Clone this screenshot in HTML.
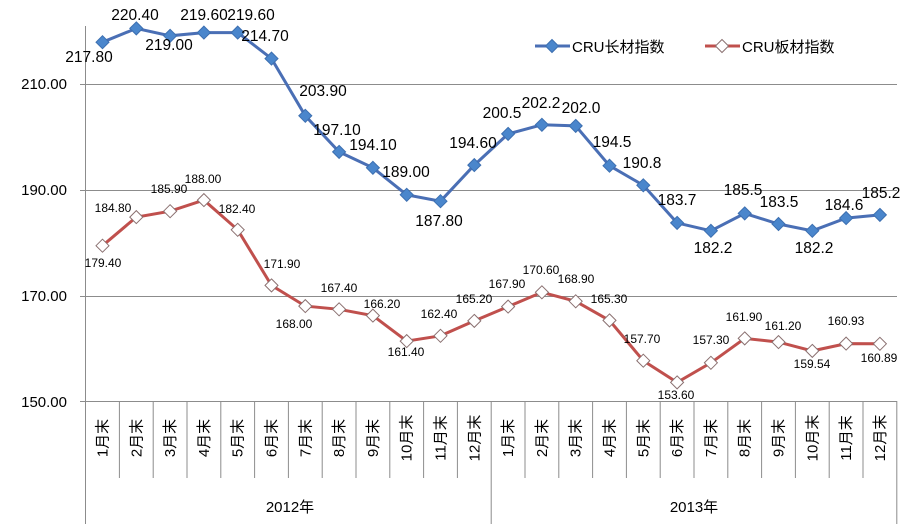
<!DOCTYPE html>
<html><head><meta charset="utf-8"><style>
html,body{margin:0;padding:0;background:#fff;}
svg{display:block;font-family:"Liberation Sans","Noto Sans CJK SC",sans-serif;}
.b{font-size:15.5px;fill:#000;text-anchor:middle;}
.r{font-size:12px;fill:#000;text-anchor:middle;}
.y{font-size:15px;fill:#000;text-anchor:end;}
.c{font-size:15px;fill:#000;text-anchor:middle;}
</style></head><body>
<svg width="908" height="527" viewBox="0 0 908 527">
<defs>
<path id="db" d="M0,-6.5L6.5,0L0,6.5L-6.5,0Z" fill="#4a86cc" stroke="#3c6fb0" stroke-width="1"/>
<path id="dr" d="M0,-6.5L6.5,0L0,6.5L-6.5,0Z" fill="#fff" stroke="#8a7070" stroke-width="1"/>
</defs>
<g stroke="#8c8c8c" stroke-width="1">
<line x1="80" y1="84.5" x2="897" y2="84.5"/>
<line x1="80" y1="190.5" x2="897" y2="190.5"/>
<line x1="80" y1="296.5" x2="897" y2="296.5"/>
<line x1="80" y1="401.5" x2="897" y2="401.5"/>
<line x1="85.5" y1="26" x2="85.5" y2="524"/>
</g>
<g stroke="#8c8c8c" stroke-width="1">
<line x1="119.4" y1="401" x2="119.4" y2="478"/><line x1="153.2" y1="401" x2="153.2" y2="478"/><line x1="187" y1="401" x2="187" y2="478"/><line x1="220.8" y1="401" x2="220.8" y2="478"/><line x1="254.6" y1="401" x2="254.6" y2="478"/><line x1="288.4" y1="401" x2="288.4" y2="478"/><line x1="322.2" y1="401" x2="322.2" y2="478"/><line x1="356" y1="401" x2="356" y2="478"/><line x1="389.8" y1="401" x2="389.8" y2="478"/><line x1="423.6" y1="401" x2="423.6" y2="478"/><line x1="457.4" y1="401" x2="457.4" y2="478"/>
<line x1="491.2" y1="401" x2="491.2" y2="524"/>
<line x1="525" y1="401" x2="525" y2="478"/><line x1="558.8" y1="401" x2="558.8" y2="478"/><line x1="592.6" y1="401" x2="592.6" y2="478"/><line x1="626.4" y1="401" x2="626.4" y2="478"/><line x1="660.2" y1="401" x2="660.2" y2="478"/><line x1="694" y1="401" x2="694" y2="478"/><line x1="727.8" y1="401" x2="727.8" y2="478"/><line x1="761.6" y1="401" x2="761.6" y2="478"/><line x1="795.4" y1="401" x2="795.4" y2="478"/><line x1="829.2" y1="401" x2="829.2" y2="478"/><line x1="863" y1="401" x2="863" y2="478"/>
<line x1="896.8" y1="401" x2="896.8" y2="524"/>
</g>
<text class="y" x="67" y="89">210.00</text>
<text class="y" x="67" y="195">190.00</text>
<text class="y" x="67" y="301">170.00</text>
<text class="y" x="67" y="407">150.00</text>
<g class="c">
<text transform="translate(107.5,438) rotate(-90)">1月末</text>
<text transform="translate(141.3,438) rotate(-90)">2月末</text>
<text transform="translate(175.1,438) rotate(-90)">3月末</text>
<text transform="translate(208.9,438) rotate(-90)">4月末</text>
<text transform="translate(242.7,438) rotate(-90)">5月末</text>
<text transform="translate(276.5,438) rotate(-90)">6月末</text>
<text transform="translate(310.3,438) rotate(-90)">7月末</text>
<text transform="translate(344.1,438) rotate(-90)">8月末</text>
<text transform="translate(377.9,438) rotate(-90)">9月末</text>
<text transform="translate(411.7,438) rotate(-90)">10月末</text>
<text transform="translate(445.5,438) rotate(-90)">11月末</text>
<text transform="translate(479.3,438) rotate(-90)">12月末</text>
<text transform="translate(513.1,438) rotate(-90)">1月末</text>
<text transform="translate(546.9,438) rotate(-90)">2月末</text>
<text transform="translate(580.7,438) rotate(-90)">3月末</text>
<text transform="translate(614.5,438) rotate(-90)">4月末</text>
<text transform="translate(648.3,438) rotate(-90)">5月末</text>
<text transform="translate(682.1,438) rotate(-90)">6月末</text>
<text transform="translate(715.9,438) rotate(-90)">7月末</text>
<text transform="translate(749.7,438) rotate(-90)">8月末</text>
<text transform="translate(783.5,438) rotate(-90)">9月末</text>
<text transform="translate(817.3,438) rotate(-90)">10月末</text>
<text transform="translate(851.1,438) rotate(-90)">11月末</text>
<text transform="translate(884.9,438) rotate(-90)">12月末</text>
</g>
<text class="c" x="290" y="512">2012年</text>
<text class="c" x="694" y="512">2013年</text>
<polyline fill="none" stroke="#4a6fb5" stroke-width="3" points="102.5,42.2 136.3,28.4 170.1,35.8 203.9,32.6 237.7,32.6 271.5,58.6 305.3,115.8 339.1,151.9 372.9,167.8 406.7,194.8 440.5,201.2 474.3,165.1 508.1,133.9 541.9,124.8 575.7,125.9 609.5,165.7 643.3,185.3 677.1,222.9 710.9,230.8 744.7,213.4 778.5,224 812.3,230.8 846.1,218.1 879.9,214.9"/>
<g>
<use href="#db" x="102.5" y="42.2"/><use href="#db" x="136.3" y="28.4"/><use href="#db" x="170.1" y="35.8"/><use href="#db" x="203.9" y="32.6"/><use href="#db" x="237.7" y="32.6"/><use href="#db" x="271.5" y="58.6"/><use href="#db" x="305.3" y="115.8"/><use href="#db" x="339.1" y="151.9"/><use href="#db" x="372.9" y="167.8"/><use href="#db" x="406.7" y="194.8"/><use href="#db" x="440.5" y="201.2"/><use href="#db" x="474.3" y="165.1"/><use href="#db" x="508.1" y="133.9"/><use href="#db" x="541.9" y="124.8"/><use href="#db" x="575.7" y="125.9"/><use href="#db" x="609.5" y="165.7"/><use href="#db" x="643.3" y="185.3"/><use href="#db" x="677.1" y="222.9"/><use href="#db" x="710.9" y="230.8"/><use href="#db" x="744.7" y="213.4"/><use href="#db" x="778.5" y="224"/><use href="#db" x="812.3" y="230.8"/><use href="#db" x="846.1" y="218.1"/><use href="#db" x="879.9" y="214.9"/>
</g>
<g class="b">
<text x="89" y="62">217.80</text><text x="135" y="20">220.40</text><text x="169" y="50">219.00</text><text x="204" y="20">219.60</text><text x="251" y="20">219.60</text><text x="265" y="41">214.70</text><text x="323" y="96">203.90</text><text x="337" y="135">197.10</text><text x="373" y="150">194.10</text><text x="406" y="177">189.00</text><text x="439" y="226">187.80</text><text x="473" y="148">194.60</text>
<text x="502" y="118">200.5</text><text x="541" y="108">202.2</text><text x="581" y="113">202.0</text><text x="612" y="147">194.5</text><text x="642" y="168">190.8</text><text x="677" y="205">183.7</text><text x="713" y="253">182.2</text><text x="743" y="195">185.5</text><text x="779" y="207">183.5</text><text x="814" y="253">182.2</text><text x="844" y="210">184.6</text><text x="881" y="198">185.2</text>
</g>
<polyline fill="none" stroke="#c0504d" stroke-width="3" points="102.5,245.7 136.3,217.1 170.1,211.2 203.9,200.1 237.7,229.8 271.5,285.4 305.3,306.1 339.1,309.3 372.9,315.6 406.7,341.1 440.5,335.8 474.3,320.9 508.1,306.6 541.9,292.3 575.7,301.3 609.5,320.4 643.3,360.7 677.1,382.4 710.9,362.8 744.7,338.4 778.5,342.1 812.3,350.9 846.1,343.6 879.9,343.8"/>
<g>
<use href="#dr" x="102.5" y="245.7"/><use href="#dr" x="136.3" y="217.1"/><use href="#dr" x="170.1" y="211.2"/><use href="#dr" x="203.9" y="200.1"/><use href="#dr" x="237.7" y="229.8"/><use href="#dr" x="271.5" y="285.4"/><use href="#dr" x="305.3" y="306.1"/><use href="#dr" x="339.1" y="309.3"/><use href="#dr" x="372.9" y="315.6"/><use href="#dr" x="406.7" y="341.1"/><use href="#dr" x="440.5" y="335.8"/><use href="#dr" x="474.3" y="320.9"/><use href="#dr" x="508.1" y="306.6"/><use href="#dr" x="541.9" y="292.3"/><use href="#dr" x="575.7" y="301.3"/><use href="#dr" x="609.5" y="320.4"/><use href="#dr" x="643.3" y="360.7"/><use href="#dr" x="677.1" y="382.4"/><use href="#dr" x="710.9" y="362.8"/><use href="#dr" x="744.7" y="338.4"/><use href="#dr" x="778.5" y="342.1"/><use href="#dr" x="812.3" y="350.9"/><use href="#dr" x="846.1" y="343.6"/><use href="#dr" x="879.9" y="343.8"/>
</g>
<g class="r">
<text x="103" y="267">179.40</text><text x="113" y="212">184.80</text><text x="169" y="193">185.90</text><text x="203" y="183">188.00</text><text x="237" y="213">182.40</text><text x="282" y="268">171.90</text><text x="294" y="328">168.00</text><text x="339" y="292">167.40</text><text x="382" y="308">166.20</text><text x="406" y="356">161.40</text><text x="439" y="318">162.40</text><text x="474" y="303">165.20</text>
<text x="507" y="288">167.90</text><text x="541" y="274">170.60</text><text x="576" y="283">168.90</text><text x="609" y="303">165.30</text><text x="642" y="343">157.70</text><text x="676" y="399">153.60</text><text x="711" y="344">157.30</text><text x="744" y="321">161.90</text><text x="783" y="330">161.20</text><text x="812" y="368">159.54</text><text x="846" y="325">160.93</text><text x="879" y="362">160.89</text>
</g>
<line x1="535" y1="46" x2="570" y2="46" stroke="#4a6fb5" stroke-width="3"/>
<use href="#db" x="552" y="46"/>
<text x="572" y="52" style="font-size:15px">CRU长材指数</text>
<line x1="705" y1="46" x2="740" y2="46" stroke="#c0504d" stroke-width="3"/>
<use href="#dr" x="722" y="46"/>
<text x="742" y="52" style="font-size:15px">CRU板材指数</text>
</svg>
</body></html>
